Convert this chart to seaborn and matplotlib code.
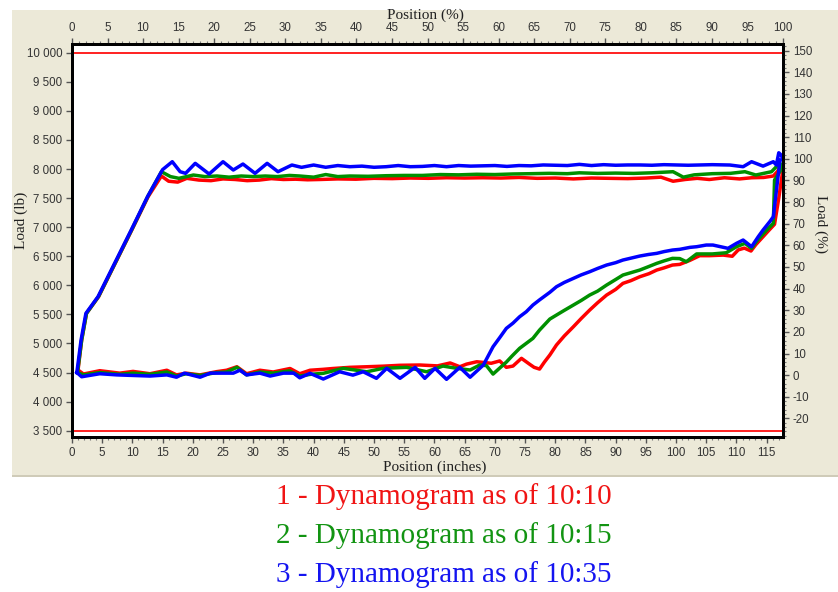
import numpy as np
import pandas as pd
import matplotlib
matplotlib.use("Agg")
import matplotlib.pyplot as plt
from matplotlib.patches import Rectangle
from matplotlib.ticker import MultipleLocator, FuncFormatter
import seaborn as sns

plt.rcParams["axes.unicode_minus"] = False

# ---------------- data (position in inches, load in lb) ----------------
pos_1010 = [1.0, 1.6, 2.4, 4.4, 6.6, 9.9, 12.6, 14.8, 16.0, 17.5, 19.0, 21, 23, 25, 27, 29, 31, 33, 35, 37, 39, 41, 44, 47,
            50, 53, 56, 59, 62, 65, 68, 71, 74, 77, 80, 83, 86, 89, 92, 95, 97.5, 99.5, 101.5, 103.5, 105.5, 108, 110.5,
            112.5, 114.5, 116.1, 116.8, 117.3,
            117.6, 117.0, 116.3, 115.4, 114.4, 113.2, 112.4, 111.3, 110.3, 109.3, 107.8, 105.5, 103.9, 102.3, 100.6,
            99.4, 98, 96.8, 95.5, 94.0, 92.5, 91.2, 90, 88.5, 87, 85.7, 84.3, 83.0, 81.5, 80.2, 79.1, 78.2, 77.4, 76.5,
            75.8, 74.4, 73.0, 71.9, 70.8, 69.4, 67.0, 65.3, 64.2, 62.6, 60.5, 57.6, 54.3, 51.5, 48.8, 46, 43.2, 41.5,
            39.4, 37.7, 36.1, 33.3, 31.1, 28.9, 27.3, 25.6, 23.9, 21.2, 18.9, 17.3, 15.7, 12.9, 10.1, 7.9, 4.6, 1.9, 1.0]
load_1010 = [4544, 5059, 5518, 5804, 6263, 6951, 7524, 7880, 7790, 7775, 7840, 7810, 7800, 7830, 7820, 7800, 7810, 7835,
             7820, 7825, 7815, 7820, 7830, 7825, 7840, 7835, 7845, 7840, 7850, 7845, 7850, 7845, 7855, 7840, 7845, 7830,
             7845, 7840, 7835, 7845, 7860, 7790, 7820, 7840, 7820, 7850, 7830, 7850, 7855, 7880, 7960, 8050,
             7930, 7500, 7050, 6950, 6836, 6700, 6590, 6640, 6610, 6500, 6520, 6510, 6510, 6430, 6360,
             6349, 6300, 6263, 6200, 6148, 6080, 6034, 5930, 5833, 5700, 5575, 5430, 5288, 5130, 4974, 4802, 4680, 4560,
             4590, 4640, 4745, 4612, 4590, 4700, 4660, 4686, 4645, 4600, 4665, 4615, 4630, 4625, 4610, 4600, 4590, 4570,
             4555, 4540, 4480, 4570, 4510, 4540, 4480, 4600, 4540, 4515, 4460, 4490, 4460, 4540, 4480, 4520, 4490, 4532,
             4475, 4544]

pos_1015 = [0.9, 1.6, 2.4, 4.4, 6.6, 9.9, 12.6, 14.8, 16.3, 17.7, 20.1, 22, 24, 26, 28, 30, 32, 34, 36, 37.7, 40, 42, 44,
            46, 49, 52, 55, 58, 61, 64, 67, 70, 73, 76, 79, 82, 84, 87, 90, 93, 96, 99.5, 101.2, 103, 106, 109, 111.4,
            113.2, 115.8, 116.6, 117.2,
            117.7, 116.3, 116.1, 115.0, 114.0, 113.2, 112.5, 111.4, 110.0, 108.3, 106, 103.4, 101.7, 100.6, 99.4, 98,
            96.8, 95.4, 94.0, 92.6, 91.2, 90, 88.5, 87, 85.7, 84.3, 83.0, 81.5, 80.2, 79.1, 77.4, 76.3, 74.1, 72.8,
            71.9, 69.7, 68.6, 67.5, 65.9, 63.7, 61.4, 58.7, 55.4, 51.5, 48.8, 44.9, 41.6, 39.5, 37.7, 36, 33.3, 31.1,
            28.9, 27.3, 25.6, 23.9, 21.2, 18.9, 17.3, 15.7, 12.9, 10.1, 7.9, 4.6, 1.9, 0.9]
load_1015 = [4500, 5059, 5518, 5810, 6270, 6960, 7540, 7954, 7870, 7840, 7897, 7870, 7880, 7860, 7880, 7870, 7880, 7870,
             7890, 7880, 7860, 7905, 7870, 7880, 7875, 7885, 7890, 7890, 7905, 7900, 7910, 7905, 7915, 7920, 7926, 7920,
             7935, 7925, 7930, 7925, 7935, 7954, 7860, 7900, 7920, 7926, 7954, 7897, 7954, 8040, 8098,
             8040, 7811, 7066, 6951, 6836, 6740, 6636, 6722, 6664, 6560, 6540, 6540, 6406, 6460, 6464, 6420,
             6378, 6320, 6263, 6220, 6177, 6100, 6005, 5900, 5833, 5740, 5661, 5570, 5489, 5420, 5231, 5088, 4917, 4780,
             4680, 4474, 4620, 4630, 4544, 4573, 4612, 4514, 4590, 4573, 4514, 4573, 4487, 4470, 4440, 4530, 4490, 4510,
             4460, 4590, 4510, 4500, 4450, 4480, 4440, 4510, 4470, 4490, 4470, 4500, 4460, 4500]

pos_1035 = [0.8, 1.5, 2.3, 4.3, 6.5, 9.8, 12.5, 15.0, 16.6, 17.9, 18.8, 20.4, 22.7, 25.0, 26.7, 28.3, 30.3, 32.3, 34.1,
            36.4, 38.0, 40.0, 42, 44, 46, 48, 50, 52, 54, 56, 58, 60, 62, 64, 66, 68, 70, 72, 74, 76, 78, 80, 82, 84,
            86, 88, 90, 92, 94, 96, 98, 100, 102, 104, 106, 108.9, 111.1, 112.5, 114.4, 116.1, 116.6, 117.0, 117.4,
            117.7, 117.2, 116.1, 115.5, 114.4, 113.6, 112.5, 111.1, 110.0, 108.6, 106.1, 105.0, 103.4, 102.3, 100.6,
            99.4, 98, 96.8, 95.4, 94.0, 92.6, 91.2, 90, 88.5, 87, 85.7, 84.3, 83.0, 81.5, 80.2, 79.1, 77.4, 76.3, 75.2,
            74.1, 73, 71.9, 70.8, 69.7, 68.1, 67.5, 65.9, 64.2, 62.0, 60.1, 58.4, 56.8, 54.3, 52.1, 50.4, 48.2, 46.5,
            44.3, 41.6, 39.4, 37.7, 36.7, 35.0, 32.8, 31.1, 28.9, 27.8, 26.7, 22.9, 21.2, 18.6, 17.3, 15.7, 12.9, 7.4,
            4.6, 1.6, 0.8]
load_1035 = [4500, 5059, 5518, 5804, 6263, 6951, 7524, 7990, 8126, 7954, 7926, 8098, 7914, 8126, 7983, 8086, 7926, 8098,
             7954, 8069, 8029, 8069, 8030, 8060, 8040, 8050, 8030, 8040, 8060, 8040, 8045, 8060, 8040, 8060, 8050, 8055,
             8060, 8045, 8060, 8055, 8070, 8065, 8060, 8080, 8060, 8075, 8065, 8070, 8070, 8065, 8075, 8070, 8065, 8070,
             8075, 8069, 8040, 8126, 8050, 8126, 8069, 8280, 8240,
             8160, 8155, 7180, 7094, 6951, 6836, 6664, 6779, 6722, 6636, 6693, 6693, 6664, 6653, 6619,
             6607, 6580, 6550, 6530, 6504, 6470, 6435, 6390, 6349, 6290, 6234, 6180, 6120, 6050, 5976, 5880, 5750, 5661,
             5546, 5460, 5350, 5260, 5100, 4944, 4630, 4573, 4420, 4590, 4384, 4573, 4401, 4590, 4401, 4573, 4401, 4514,
             4456, 4514, 4389, 4487, 4410, 4490, 4490, 4440, 4490, 4460, 4540, 4490, 4490, 4420, 4490, 4420, 4460, 4440,
             4460, 4480, 4428, 4500]

series_names = ["10:10", "10:15", "10:35"]
series_colors = ["#FF0000", "#009000", "#0000FF"]
legend_colors = ["#F01414", "#129412", "#1414F0"]
limit_loads = [10000, 3500]

x_ticks_in = list(range(0, 116, 5))
x_ticks_pct = list(range(0, 101, 5))
y_ticks_lb = list(range(3500, 10001, 500))
y_ticks_pct = list(range(-20, 151, 10))

# ---------------- build frame ----------------
frames = []
for name, p, l in zip(series_names, [pos_1010, pos_1015, pos_1035], [load_1010, load_1015, load_1035]):
    frames.append(pd.DataFrame({"pos": p, "load": l, "series": name}))
df = pd.concat(frames, ignore_index=True)

# ---------------- figure ----------------
W, H = 838, 592
fig = plt.figure(figsize=(W / 100, H / 100), dpi=100, facecolor="white")

# beige panel (behind axes)
fig.patches.append(Rectangle((12 / W, 1 - 475 / H), 1 - 12 / W, (475 - 10) / H, transform=fig.transFigure,
                             facecolor="#ECE9D8", edgecolor="none", zorder=-10))
fig.patches.append(Rectangle((12 / W, 1 - 477 / H), 1 - 12 / W, 2 / H, transform=fig.transFigure,
                             facecolor="#CFCBB8", edgecolor="none", zorder=-10))

ax_l, ax_r, ax_t, ax_b = 72, 783, 44, 437
ax = fig.add_axes([ax_l / W, 1 - ax_b / H, (ax_r - ax_l) / W, (ax_b - ax_t) / H])
ax.set_facecolor("white")

for yv in limit_loads:
    ax.axhline(yv, color="#FF2020", lw=1.4, zorder=1)

sns.lineplot(data=df, x="pos", y="load", hue="series", hue_order=series_names,
             palette=dict(zip(series_names, series_colors)), sort=False, estimator=None,
             linewidth=2.5, legend=False, ax=ax, zorder=3)

ax.set_xlim(0, 117.7)
ax.set_ylim(3392, 10150)
ax.set_xlabel("")
ax.set_ylabel("")

tick_col = "#333333"
tick_size = 8.3

ax.set_xticks(x_ticks_in)
ax.xaxis.set_minor_locator(MultipleLocator(1))
ax.set_yticks(y_ticks_lb)
ax.yaxis.set_major_formatter(FuncFormatter(lambda v, p: f"{int(v):,}".replace(",", " ")))
ax.tick_params(axis="x", which="major", length=4, width=1, color="#555555", labelcolor=tick_col, pad=3)
ax.tick_params(axis="x", which="minor", length=2, width=0.8, color="#777777")
ax.tick_params(axis="y", which="major", length=4, width=1, color="#555555", labelcolor=tick_col, pad=3)
for lab in ax.get_xticklabels() + ax.get_yticklabels():
    lab.set_fontfamily("Liberation Sans")
    lab.set_fontsize(tick_size)

# top axis (percent)
axt = ax.twiny()
axt.set_xlim(0, 100)
axt.set_xticks(x_ticks_pct)
axt.xaxis.set_minor_locator(MultipleLocator(1))
axt.tick_params(axis="x", which="major", length=4, width=1, color="#555555", labelcolor=tick_col, pad=3)
axt.tick_params(axis="x", which="minor", length=2, width=0.8, color="#777777")
for lab in axt.get_xticklabels():
    lab.set_fontfamily("Liberation Sans")
    lab.set_fontsize(tick_size)

# right axis (percent)
axr = ax.twinx()
axr.set_ylim(-28.6, 153.1)
axr.set_yticks(y_ticks_pct)
axr.yaxis.set_minor_locator(MultipleLocator(2))
axr.tick_params(axis="y", which="major", length=4, width=1, color="#555555", labelcolor=tick_col, pad=3)
axr.tick_params(axis="y", which="minor", length=2, width=0.8, color="#777777")
for lab in axr.get_yticklabels():
    lab.set_fontfamily("Liberation Sans")
    lab.set_fontsize(tick_size)

for a in (ax, axt, axr):
    for s in a.spines.values():
        s.set_color("black")
        s.set_linewidth(2)

# axis titles
serif = "Liberation Serif"
fig.text(425 / W, 1 - 15 / H, "Position (%)", ha="center", va="center", family=serif, size=11, color="#202020")
fig.text(435 / W, 1 - 467 / H, "Position (inches)", ha="center", va="center", family=serif, size=11, color="#202020")
fig.text(21 / W, 1 - 220 / H, "Load (lb)", ha="center", va="center", rotation=90, family=serif, size=11,
         color="#202020")
fig.text(821 / W, 1 - 224 / H, "Load (%)", ha="center", va="center", rotation=270, family=serif, size=11,
         color="#202020")

# caption legend
for i, (name, col) in enumerate(zip(series_names, legend_colors)):
    fig.text(444 / W, 1 - (497 + i * 39) / H, f"{i + 1} - Dynamogram as of {name}", ha="center", va="center",
             family=serif, size=21, color=col)

fig.savefig("out.png", dpi=100, facecolor="white")
